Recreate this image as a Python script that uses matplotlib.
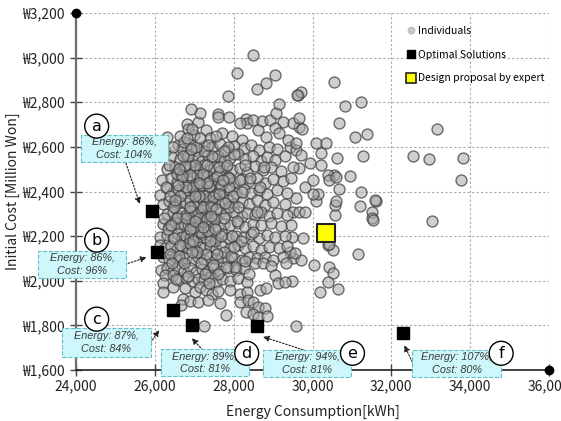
import matplotlib
matplotlib.use("Agg")
import matplotlib.pyplot as plt
from matplotlib.lines import Line2D
from matplotlib.patches import Rectangle
from matplotlib.ticker import FuncFormatter

plt.rcParams['font.family'] = ['Noto Sans CJK KR', 'DejaVu Sans']

# ---------------- data ----------------
individuals = [
    # upper / right outliers
    (28490,3012),(28090,2932),(29060,2922),(28830,2885),(28600,2860),(30540,2892),(29630,2832),(29700,2847),
    (30830,2784),(31220,2801),(30660,2708),(29670,2687),(29740,2680),(31090,2645),(31380,2656),(33170,2678),
    (30090,2616),(30350,2616),(30220,2571),(30630,2548),(31290,2559),(32560,2560),(32950,2547),(33830,2550),
    (29420,2600),(29590,2586),(29720,2563),(29930,2526),(30220,2518),(29670,2504),(30540,2474),(30960,2469),
    (30390,2474),(33770,2452),(29800,2421),(30010,2451),(30430,2451),(30600,2466),(30680,2411),(31220,2396),
    (31600,2357),(31210,2336),(31510,2306),(31510,2282),(30580,2294),(30580,2339),(30600,2357),(30090,2357),
    (30140,2391),(30010,2391),(33030,2269),(29590,2372),(29760,2190),(30390,2160),(30520,2137),(30430,2163),
    (31150,2119),(30050,2070),(30410,2062),(30520,2033),(30390,1995),(30640,1961),(30180,1950),(29490,1998),
    (29590,1798),(29500,2100),(29720,2092),(29420,2130),(29550,2123),(29500,2309),(29670,2309),(29800,2306),
    (29460,2249),(29490,2197),(31530,2272),(31590,2361),
    # ~2700
    (26820,2701),(27100,2713),(26830,2679),(27290,2675),(27140,2753),(26910,2770),(27590,2747),(27610,2732),
    (27870,2735),(27860,2826),(28320,2725),(28350,2708),(28150,2705),(28490,2720),(28720,2716),(28910,2720),
    (29080,2750),(29250,2713),(29500,2705),(29650,2728),(29150,2791),(29610,2832),
    # ~2650
    (26300,2645),(26580,2608),(27000,2655),(27400,2640),(27700,2662),(27950,2648),(28200,2630),(28620,2675),
    (28830,2645),(29040,2683),(29160,2661),(29380,2631),(29590,2616),
    # ~2600
    (26700,2590),(26900,2612),(27050,2585),(27250,2605),(27450,2598),(27650,2615),(27800,2588),(28000,2602),
    (28250,2595),(28450,2610),(28650,2585),(28900,2600),(29100,2592),
    # ~2550
    (26400,2560),(26650,2545),(26800,2562),(26950,2540),(27100,2555),(27200,2538),(27350,2565),(27500,2548),
    (27600,2560),(27750,2535),(27900,2552),(28100,2568),(28300,2545),(28500,2560),(28700,2538),(28850,2555),
    (29050,2542),(29300,2560),
    # ~2500
    (26300,2499),(26500,2510),(26650,2492),(26750,2505),(26900,2515),(27000,2488),(27150,2502),(27250,2518),
    (27400,2495),(27500,2508),(27650,2490),(27800,2512),(27950,2498),(28150,2505),(28350,2488),(28550,2515),
    (28750,2495),(28950,2508),(29200,2490),(29500,2512),
    # ~2450
    (26170,2451),(26400,2460),(26550,2442),(26700,2455),(26850,2448),(26950,2462),(27050,2440),(27150,2455),
    (27300,2468),(27400,2445),(27500,2458),(27600,2438),(27700,2452),(27850,2465),(28000,2442),(28200,2458),
    (28400,2445),(28600,2460),(28800,2438),(29000,2455),(29250,2448),(29450,2462),
    # ~2400
    (26130,2384),(26300,2414),(26450,2398),(26600,2408),(26750,2392),(26850,2405),(26950,2415),(27050,2390),
    (27150,2402),(27250,2412),(27350,2395),(27450,2405),(27550,2388),(27650,2410),(27750,2398),(27900,2405),
    (28050,2392),(28250,2410),(28450,2395),(28650,2405),(28850,2390),(29100,2408),(29350,2395),
    # ~2350
    (26200,2345),(26350,2358),(26500,2342),(26650,2355),(26800,2348),(26900,2362),(27000,2340),(27100,2352),
    (27200,2365),(27300,2345),(27400,2358),(27500,2340),(27600,2355),(27700,2348),(27850,2362),(28000,2342),
    (28200,2355),(28400,2345),(28600,2360),(28800,2340),(29000,2352),(29300,2345),
    # ~2300
    (26300,2298),(26450,2310),(26600,2292),(26700,2305),(26800,2295),(26900,2312),(27000,2290),(27100,2302),
    (27200,2315),(27300,2295),(27400,2305),(27500,2288),(27650,2308),(27800,2298),(28000,2310),(28200,2292),
    (28350,2305),(28550,2295),(28700,2310),(28900,2290),(29100,2302),(29350,2295),
    # ~2250
    (26200,2255),(26350,2245),(26500,2258),(26650,2242),(26750,2255),(26850,2248),(26950,2260),(27050,2240),
    (27150,2252),(27250,2262),(27350,2245),(27450,2258),(27600,2242),(27750,2255),(27900,2248),(28100,2260),
    (28300,2242),(28500,2255),(28700,2248),(28950,2258),(29200,2245),
    # ~2200
    (26130,2197),(26300,2205),(26450,2192),(26600,2208),(26700,2195),(26800,2202),(26900,2190),(27000,2205),
    (27100,2198),(27200,2210),(27300,2192),(27400,2205),(27550,2195),(27700,2208),(27850,2190),(28050,2202),
    (28250,2195),(28450,2208),(28650,2192),(28850,2205),(29050,2195),(29300,2200),
    # ~2150
    (26130,2160),(26250,2145),(26400,2155),(26550,2142),(26700,2158),(26850,2148),(26950,2160),(27050,2140),
    (27150,2152),(27250,2145),(27400,2158),(27550,2142),(27700,2155),(27900,2148),(28100,2160),(28300,2145),
    (28500,2155),(28700,2140),(28900,2152),(29150,2148),(29350,2158),
    # ~2100
    (26200,2105),(26350,2095),(26500,2108),(26650,2092),(26800,2102),(26950,2095),(27100,2108),(27250,2092),
    (27400,2105),(27550,2098),(27700,2108),(27850,2092),(28000,2102),(28200,2095),(28400,2108),(28580,2100),
    (28790,2107),(29000,2095),(29250,2105),
    # ~2050
    (26144,2048),(26300,2055),(26450,2042),(26600,2058),(26750,2045),(26900,2055),(27050,2040),(27200,2052),
    (27350,2045),(27500,2058),(27650,2042),(27850,2055),(28050,2048),(28250,2058),(28530,2078),(28740,2078),
    (28950,2066),(29340,2078),
    # ~2000
    (26254,2025),(26464,2025),(26600,2005),(26800,2012),(26950,1998),(27100,2010),(27250,2002),(27400,2015),
    (27550,1995),(27700,2008),(27900,2000),(28100,2012),(28350,1995),(29040,2025),(29120,1988),(29290,1995),
    # ~1950
    (26195,1988),(26195,1948),(26464,1973),(26760,1966),(27013,1950),(27140,1973),(27300,1960),(27461,1940),
    (27600,1955),(27917,1958),(28152,1940),(28347,1950),(28659,1958),(28828,1966),
    # ~1900
    (26717,1918),(26676,1891),(26900,1910),(27100,1905),(27350,1915),(27650,1900),(28152,1905),(28363,1913),
    (28489,1905),(28616,1883),(28785,1879),
    # ~1850 / 1800
    (27798,1846),(28322,1861),(28489,1853),(28616,1838),(28853,1841),(27249,1798),
    # dense centre
    (26980,2420),(27080,2475),(27180,2430),(27280,2380),(27380,2425),(27480,2375),(27580,2470),(27680,2430),
    (27220,2330),(27120,2280),(27320,2275),(27420,2330),(27520,2275),(27020,2520),(27320,2520),(27620,2510),
    (27880,2420),(27880,2330),(26880,2330),(26780,2420),(27160,2220),(27360,2225),(27560,2320),(27760,2280),
    (26980,2235),(26880,2475),(27450,2560),(27240,2580),(27040,2600),(26760,2520),(26640,2380),(26560,2280),
    (26480,2190),(26380,2120),(26620,2110),(26860,2170),(27300,2120),(27520,2180),(27750,2130),(27950,2200),
    (28100,2330),(28150,2450),(28300,2520),(28000,2570),(27850,2600),
    (26250,2580),(26350,2520),(26450,2600),(26550,2480),(26650,2650),(26750,2620),(26850,2560),(26950,2680),
    (27150,2640),(27350,2610),(27550,2650),(27750,2580),(26280,2420),(26380,2380),(26480,2330),(26580,2430),
    (26680,2470),(26780,2280),(26880,2230),(26980,2180),(27080,2130),(27180,2080),(27280,2030),(27380,1990),
    (27480,2070),(27580,2120),(27680,2200),(27780,2350),(27880,2460),(27980,2380),(28080,2270),(28180,2180),
    (28280,2090),(28380,2030),(28480,2220),(28580,2310),(28680,2420),(28780,2510),(26230,2280),(26330,2230),
    (26430,2080),(26530,2010),(26630,2160),(26730,2080),(26830,2020),(26930,2130),(27030,2270),(27130,2380),
    (27230,2480),(27330,2440),(27430,2290),(27530,2230),(27630,2390),(27730,2450),(27830,2520),(27930,2110),
    (28030,2060),(26410,2250),(26510,2360),(26610,2500),(26710,2560),(26810,2640),(26910,2590),(27010,2380),
    (27110,2440),(27210,2240),(27410,2180),(27610,2030),(27810,2060),(28010,2150),(28210,2400),(28410,2460),
]
ind_energy = [p[0] for p in individuals]
ind_cost = [p[1] for p in individuals]

opt_labels = ['a', 'b', 'c', 'd', 'e', 'f']
opt_energy = [25920, 26050, 26460, 26940, 28580, 32300]
opt_cost = [2312, 2128, 1868, 1801, 1796, 1765]
opt_text = ["Energy: 86%,\nCost: 104%", "Energy: 86%,\nCost: 96%", "Energy: 87%,\nCost: 84%",
            "Energy: 89%,\nCost: 81%", "Energy: 94%,\nCost: 81%", "Energy: 107%,\nCost: 80%"]

expert_energy = [30330]
expert_cost = [2213]

x_ticks = [24000, 26000, 28000, 30000, 32000, 34000, 36000]
y_ticks = [1600, 1800, 2000, 2200, 2400, 2600, 2800, 3000, 3200]

# annotation layout (data coordinates): box = (left, bottom, right, top)
circle_pos = [(24524, 2693), (24524, 2182), (24524, 1828), (28330, 1675), (31014, 1675), (34786, 1675)]
box_rect = [(24127, 2532, 26330, 2653), (23038, 2012, 25266, 2133), (23646, 1658, 25899, 1788),
            (26152, 1572, 28380, 1693), (28735, 1568, 30988, 1689), (32533, 1568, 34786, 1689)]
arrow_tail = [(25266, 2527), (25324, 2078), (25891, 1722), (27216, 1689), (29841, 1686), (32533, 1635)]
arrow_head = [(25620, 2344), (25790, 2105), (26109, 1779), (26937, 1743), (28742, 1749), (32330, 1711)]

# ---------------- figure ----------------
fig = plt.figure(figsize=(5.61, 4.21), dpi=100)
ax = fig.add_axes([0.1355, 0.1211, 0.8431, 0.8480])

ax.set_xlim(x_ticks[0], x_ticks[-1])
ax.set_ylim(y_ticks[0], y_ticks[-1])
ax.set_xticks(x_ticks)
ax.set_yticks(y_ticks)
ax.xaxis.set_major_formatter(FuncFormatter(lambda v, p: f"{int(v):,}"))
ax.yaxis.set_major_formatter(FuncFormatter(lambda v, p: f"\u20a9{int(v):,}"))
ax.grid(True, ls=(0, (2, 2)), color='#a8a8a8', lw=0.8)
ax.set_axisbelow(True)

for s in ['top', 'right']:
    ax.spines[s].set_visible(False)
ax.spines['left'].set_color('#6e6e6e')
ax.spines['left'].set_linewidth(1.6)
ax.spines['bottom'].set_color('#222222')
ax.spines['bottom'].set_linewidth(1.2)
ax.tick_params(direction='inout', length=8, width=1, colors='#444444', labelcolor='#222222', labelsize=10)
ax.tick_params(axis='x', pad=3)
ax.tick_params(axis='y', pad=4)

# end dots of axes
ax.plot([ax.get_xlim()[0]], [ax.get_ylim()[1]], 'o', color='black', ms=6, clip_on=False, zorder=6)
ax.plot([ax.get_xlim()[1]], [ax.get_ylim()[0]], 'o', color='black', ms=6, clip_on=False, zorder=6)

ax.scatter(ind_energy, ind_cost, s=62, facecolor=(0.66, 0.66, 0.66, 0.55),
           edgecolor=(0.25, 0.25, 0.25, 0.75), linewidth=1.0, zorder=3)
ax.scatter(opt_energy, opt_cost, s=75, marker='s', color='black', zorder=5)
ax.scatter(expert_energy, expert_cost, s=150, marker='s', facecolor='#ffff00',
           edgecolor='#222222', linewidth=1.5, zorder=5)

for i in range(len(opt_labels)):
    ax.annotate('', xy=arrow_head[i], xytext=arrow_tail[i],
                arrowprops=dict(arrowstyle='-|>', color='#222222', lw=0.8, ls=(0, (1.5, 1.5)),
                                mutation_scale=9, shrinkA=0, shrinkB=0),
                annotation_clip=False, zorder=7)
    l, b, r, t = box_rect[i]
    ax.add_patch(Rectangle((l, b), r - l, t - b, fc='#cdf7fa', ec='#62bfc6', lw=0.8, ls='--',
                           clip_on=False, zorder=8))
    ax.text((l + r) / 2, (b + t) / 2, opt_text[i], ha='center', va='center',
            family=['Liberation Sans', 'DejaVu Sans'], style='italic', fontsize=7.8,
            color='#3a3a3a', linespacing=1.3, clip_on=False, zorder=9)
    ax.text(circle_pos[i][0], circle_pos[i][1], opt_labels[i], ha='center', va='center',
            family=['DejaVu Sans'], fontsize=11.5, color='black', clip_on=False, zorder=10,
            bbox=dict(boxstyle='circle,pad=0.28', fc='white', ec='black', lw=1.0))

ax.set_xlabel('Energy Consumption[kWh]', fontsize=10, color='#222222', labelpad=8)
ax.set_ylabel('Initial Cost [Million Won]', fontsize=10, color='#222222', labelpad=2)

handles = [
    Line2D([], [], ls='none', marker='o', ms=5, mfc='#c8c8c8', mec='#b0b0b0', mew=0.5),
    Line2D([], [], ls='none', marker='s', ms=6, mfc='black', mec='black'),
    Line2D([], [], ls='none', marker='s', ms=7, mfc='#ffff00', mec='#222222', mew=1.2),
]
ax.legend(handles, ['Individuals', 'Optimal Solutions', 'Design proposal by expert'],
          loc='upper left', bbox_to_anchor=(0.69, 0.975), frameon=False, fontsize=7.5,
          handlelength=0.8, handletextpad=0.3, labelspacing=1.3, borderaxespad=0)

fig.savefig('out.png', dpi=100)
